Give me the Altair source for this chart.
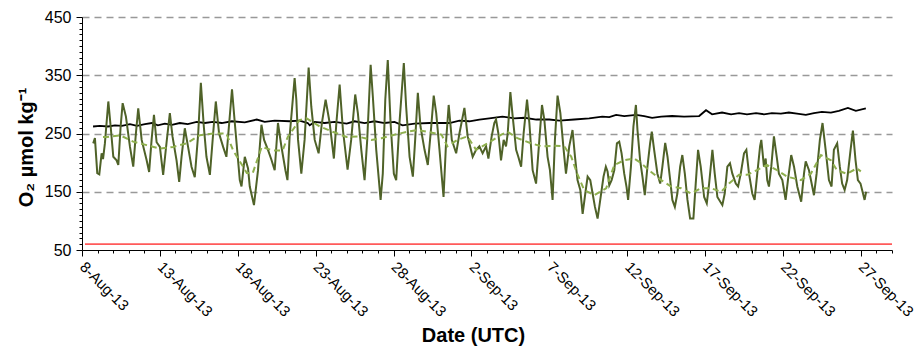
import altair as alt
import pandas as pd

# Time axis runs from 8-Aug-13 00:00 UTC; series times are given in days since then.
START = pd.Timestamp("2013-08-08", tz="UTC")
DAY_MS = 86400000
N_DAYS = 52

# Measured dissolved oxygen (µmol/kg)
green_day = [0.72, 0.83, 0.98, 1.11, 1.26, 1.35, 1.47, 1.69, 1.84, 2.01, 2.22, 2.33, 2.48, 2.61, 2.82,
             3.08, 3.29, 3.46, 3.61, 3.83, 4.15, 4.31, 4.47, 4.62, 4.79, 5.0, 5.21, 5.43, 5.64, 5.81,
             6.07, 6.24, 6.39, 6.60, 6.81, 7.03, 7.24, 7.46, 7.63, 7.82, 7.99, 8.21, 8.42, 8.59, 8.80,
             9.06, 9.27, 9.63, 9.81, 10.13, 10.24, 10.45, 10.66, 10.77, 11.04, 11.30, 11.52, 11.69,
             11.94, 12.16, 12.37, 12.58, 12.80, 13.06, 13.19, 13.33, 13.65, 13.76, 13.87, 14.08, 14.29,
             14.55, 14.72, 14.94, 15.19, 15.40, 15.64, 15.90, 16.17, 16.33, 16.54, 16.75, 17.05, 17.28,
             17.54, 17.71, 17.93, 18.14, 18.31, 18.53, 18.67, 18.89, 19.17, 19.31, 19.47, 19.63, 19.81,
             20.02, 20.17, 20.38, 20.66, 20.81, 21.03, 21.24, 21.39, 21.56, 21.73, 21.99, 22.2, 22.42,
             22.58, 22.74, 22.95, 23.21, 23.38, 23.54, 23.74, 24.02, 24.23, 24.55, 24.76, 25.08, 25.30,
             25.51, 25.72, 25.94, 26.09, 26.30, 26.47, 26.58, 26.73, 26.90, 27.07, 27.22, 27.33, 27.50,
             27.65, 27.87, 28.01, 28.19, 28.35, 28.57, 28.72, 28.93, 29.15, 29.36, 29.53, 29.68, 29.89,
             30.04, 30.21, 30.36, 30.53, 30.71, 30.92, 31.07, 31.28, 31.49, 31.65, 31.81, 31.99, 32.14,
             32.31, 32.46, 32.63, 32.78, 32.93, 33.1, 33.27, 33.48, 33.63, 33.74, 33.85, 34.0, 34.17,
             34.34, 34.49, 34.64, 34.81, 34.96, 35.06, 35.24, 35.40, 35.56, 35.66, 35.83, 35.98, 36.13,
             36.30, 36.47, 36.58, 36.73, 36.94, 37.12, 37.26, 37.44, 37.59, 37.76, 37.90, 38.06, 38.22,
             38.40, 38.54, 38.70, 38.87, 39.04, 39.25, 39.40, 39.55, 39.72, 39.94, 40.11, 40.26, 40.47,
             40.62, 40.79, 41.11, 41.26, 41.43, 41.60, 41.75, 41.97, 42.12, 42.29, 42.50, 42.65, 42.82,
             43.03, 43.18, 43.35, 43.53, 43.61, 43.78, 43.89, 43.99, 44.10, 44.25, 44.42, 44.60, 44.74,
             44.96, 45.17, 45.32, 45.53, 45.71, 45.92, 46.17, 46.35, 46.46, 46.67, 46.88, 46.99, 47.16,
             47.37, 47.54, 47.74, 47.95, 48.12, 48.27, 48.48, 48.65, 48.80, 48.96, 49.12, 49.34, 49.49,
             49.66, 49.81, 49.98, 50.24, 50.34]
green_val = [233, 242, 182, 180, 216, 206, 233, 305, 262, 210, 204, 196, 262, 302, 279,
             227, 193, 250, 293, 239, 204, 184, 240, 282, 235, 227, 179, 235, 285, 245,
             204, 167, 210, 259, 227, 193, 175, 250, 337, 262, 210, 179, 250, 305, 250,
             227, 210, 326, 268, 170, 159, 210, 190, 159, 127, 187, 265, 239,
             222, 205, 187, 268, 228, 187, 170, 245, 345, 308, 239, 181, 239,
             363, 296, 239, 216, 268, 308, 268, 207, 268, 334, 256, 188, 239,
             317, 285, 222, 170, 239, 368, 314, 222, 136, 181, 308, 376, 268,
             181, 170, 268, 371, 296, 210, 176, 240, 320, 262, 222, 196, 262,
             315, 285, 222, 141, 239, 299, 239, 216, 250, 294, 245, 210, 222,
             228, 216, 228, 207, 245, 268, 274, 250, 204, 239, 228, 250, 321,
             279, 222, 210, 193, 250, 308, 268, 187, 164, 239, 299, 274, 210,
             187, 136, 239, 315, 285, 222, 181, 228, 256, 210, 170, 153, 112,
             147, 176, 170, 147, 124, 104, 136, 176, 193, 185, 161, 170, 187,
             233, 236, 216, 181, 158, 136, 193, 262, 299, 256, 204, 176, 144,
             193, 233, 253, 222, 181, 164, 193, 234, 210, 170, 136, 124, 147,
             193, 213, 181, 136, 104, 104, 164, 222, 193, 141, 130, 164, 222,
             181, 141, 127, 147, 193, 199, 181, 164, 159, 181, 216, 222, 181,
             147, 136, 181, 228, 239, 193, 207, 170, 159, 193, 245, 210, 181,
             170, 136, 170, 213, 193, 159, 133, 181, 202, 187, 159, 144, 181,
             239, 268, 222, 170, 159, 222, 233, 193, 164, 153, 170, 222, 255,
             204, 170, 164, 136, 150]

# Smoothed (daily running mean) oxygen
smooth_day = [1.35, 1.6, 2.44, 3.29, 4.15, 5.0, 5.85, 6.71, 7.56, 8.42, 9.27, 9.70, 10.34, 10.58,
              10.96, 11.54, 12.24, 12.88, 13.21, 13.97, 14.42, 15.26, 16.09, 16.99, 17.69, 18.59,
              19.23, 20.06, 20.90, 21.54, 22.18, 23.08, 23.46, 24.10, 24.74, 25.3, 26.03, 26.92,
              27.31, 27.95, 28.85, 29.49, 30.32, 30.96, 31.41, 31.79, 32.24, 32.88, 33.65, 34.17,
              34.81, 35.45, 35.90, 36.54, 37.18, 37.82, 38.46, 39.10, 39.74, 40.38, 41.03, 41.54,
              42.18, 42.69, 43.33, 43.97, 44.62, 45.26, 46.15, 46.79, 47.44, 48.08, 48.46, 49.10,
              49.74, 50.0]
smooth_val = [244, 244, 247, 236, 230, 224, 227, 233, 247, 250, 250, 221, 193, 182,
              182, 227, 221, 221, 244, 273, 276, 262, 253, 244, 245, 239,
              242, 248, 253, 256, 253, 248, 228, 239, 245, 222, 233, 248,
              253, 242, 233, 228, 229, 228, 210, 181, 153, 144, 156, 196,
              204, 207, 199, 184, 170, 159, 156, 147, 156, 156, 150, 164,
              179, 179, 187, 196, 187, 176, 170, 181, 213, 204, 187, 181,
              190, 185]

# Oxygen saturation
sat_day = [0.71, 1.15, 1.67, 2.12, 2.56, 3.08, 3.53, 4.04, 4.49, 4.87, 5.32, 5.77, 6.28, 6.79,
           7.37, 7.88, 8.40, 8.97, 9.62, 10.45, 11.22, 11.73, 12.37, 13.33, 13.97, 14.49, 14.62,
           14.94, 15.58, 16.22, 16.99, 17.5, 18.14, 18.78, 19.42, 20.06, 20.58, 21.35, 22.31,
           23.59, 24.23, 24.87, 25.51, 26.15, 26.99, 27.76, 28.40, 29.17, 30.0, 30.64, 31.60,
           32.56, 33.40, 33.85, 34.29, 34.81, 35.58, 36.09, 36.6, 37.18, 37.88, 38.65, 39.62,
           40.06, 40.45, 41.09, 41.67, 42.18, 42.69, 43.27, 43.78, 44.29, 44.87, 45.38, 45.90,
           46.47, 46.99, 47.5, 48.08, 48.59, 49.17, 49.68, 50.32]
sat_val = [262, 263, 262, 264, 263, 266, 263, 266, 268, 264, 267, 265, 268, 266,
           270, 268, 270, 268, 271, 269, 274, 270, 272, 271, 272, 268, 264,
           270, 268, 270, 267, 271, 268, 271, 268, 270, 264, 267, 268,
           268, 272, 271, 274, 276, 279, 276, 277, 274, 274, 272, 274,
           276, 279, 278, 282, 280, 282, 280, 277, 279, 280, 279, 280,
           290, 283, 286, 283, 285, 283, 285, 283, 285, 284, 286, 284,
           282, 285, 287, 286, 289, 294, 289, 293]

# Hypoxia threshold
limit_day = [0.19, 52.0]
limit_val = [60, 60]

y_values = list(range(50, 451, 10))


def frame(days, vals):
    ts = [(START + pd.Timedelta(days=d)).strftime("%Y-%m-%dT%H:%M:%SZ") for d in days]
    return pd.DataFrame({"t": ts, "v": vals})


start_ms = int(START.timestamp() * 1000)
end_ms = start_ms + N_DAYS * DAY_MS
x_ticks = [start_ms + i * DAY_MS for i in range(N_DAYS + 1)]
major_x = f"round((datum.value - {start_ms}) / {DAY_MS}) % 5 == 0"

FONT = "Liberation Sans"

x_enc = alt.X(
    "t:T",
    scale=alt.Scale(type="utc", domain=[start_ms, end_ms], nice=False),
    axis=alt.Axis(
        values=x_ticks,
        labelExpr=f"{major_x} ? utcFormat(datum.value, '%-d-%b-%y') : ''",
        tickSize={"condition": {"test": major_x, "value": 6}, "value": 3},
        labelAngle=45,
        labelAlign="left",
        labelBaseline="middle",
        labelPadding=8,
        labelOverlap=False,
        labelFlush=False,
        labelBound=False,
        labelFontSize=15,
        labelFont=FONT,
        labelColor="#000000",
        grid=False,
        domainColor="#000000",
        tickColor="#000000",
        title="Date (UTC)",
        titleFont=FONT,
        titleFontSize=20,
        titleFontWeight="bold",
        titleColor="#000000",
        titleX=391,
        titleY=91,
        titleAlign="center",
        titleBaseline="alphabetic",
    ),
)

major_y = "datum.value % 100 == 50"
y_enc = alt.Y(
    "v:Q",
    scale=alt.Scale(domain=[50, 450], nice=False, zero=False),
    axis=alt.Axis(
        values=y_values,
        labelExpr=f"{major_y} ? datum.label : ''",
        tickSize={"condition": {"test": major_y, "value": 6}, "value": 3},
        labelOverlap=False,
        labelFlush=False,
        labelFontSize=16,
        labelFont=FONT,
        labelColor="#000000",
        labelPadding=5,
        grid=True,
        gridColor="#999999",
        gridDash=[7, 5],
        gridWidth=1.5,
        gridOpacity={"condition": {"test": f"{major_y} && datum.value > 50", "value": 1}, "value": 0},
        domainColor="#000000",
        tickColor="#000000",
        title="O₂ µmol kg⁻¹",
        titleFont=FONT,
        titleFontSize=20,
        titleFontWeight="bold",
        titleColor="#000000",
        titleAngle=-90,
        titleX=-50,
        titleY=130,
        titleAlign="center",
        titleBaseline="alphabetic",
    ),
)

limit = alt.Chart(frame(limit_day, limit_val)).mark_line(color="#ff5a5a", strokeWidth=1.8).encode(x=x_enc, y=y_enc)
sat = alt.Chart(frame(sat_day, sat_val)).mark_line(color="#000000", strokeWidth=1.8).encode(x=x_enc, y=y_enc)
oxy = alt.Chart(frame(green_day, green_val)).mark_line(color="#4f6228", strokeWidth=2).encode(x=x_enc, y=y_enc)
smooth = alt.Chart(frame(smooth_day, smooth_val)).mark_line(
    color="#8fb04e", strokeWidth=2, strokeDash=[6, 4]
).encode(x=x_enc, y=y_enc)

chart = (
    alt.layer(limit, sat, oxy, smooth)
    .properties(
        width=810,
        height=233,
        autosize=alt.AutoSizeParams(type="none"),
        padding={"left": 82, "top": 17, "right": 24, "bottom": 98},
        background="#ffffff",
    )
    .configure_view(stroke=None)
)

chart.save("out.html", embed_options={"renderer": "svg", "actions": False})
